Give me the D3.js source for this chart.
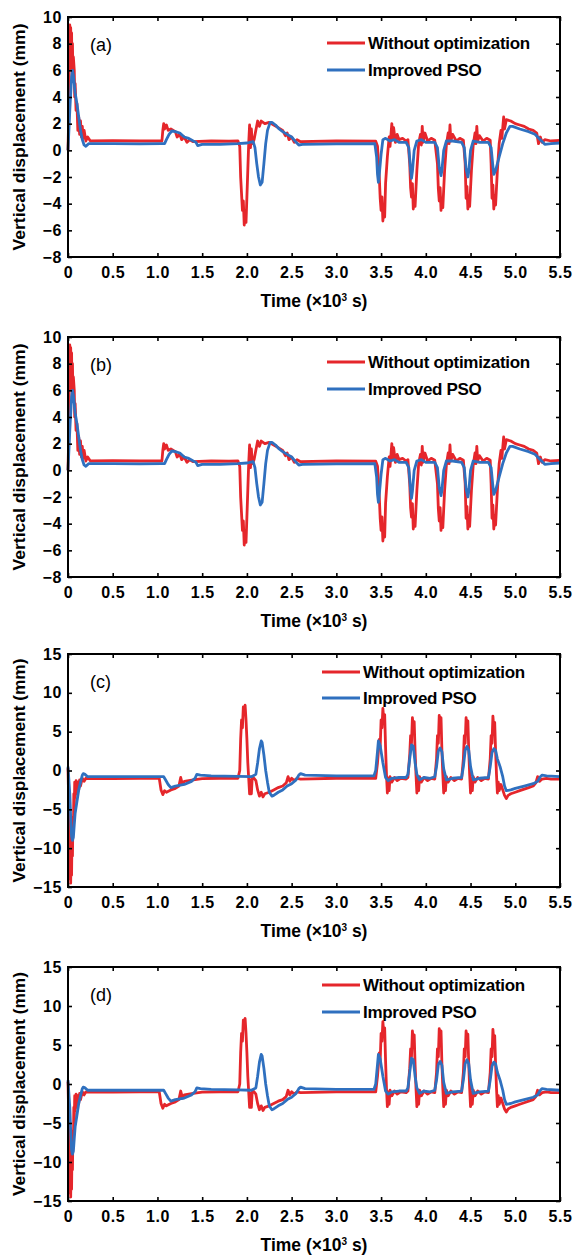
<!DOCTYPE html>
<html>
<head>
<meta charset="utf-8">
<script src="https://cdn.jsdelivr.net/npm/d3@7/dist/d3.min.js"></script>
<style>
  body { margin: 0; background: #fff; }
  text { font-family: "Liberation Sans", Arial, sans-serif; }
</style>
</head>
<body>
<svg id="fig"></svg>
<script>
// axis ticks and labels
var xTicks = [0, 0.5, 1.0, 1.5, 2.0, 2.5, 3.0, 3.5, 4.0, 4.5, 5.0, 5.5];
var xTickLabels = ["0", "0.5", "1.0", "1.5", "2.0", "2.5", "3.0", "3.5", "4.0", "4.5", "5.0", "5.5"];
var yTicksAB = [-8, -6, -4, -2, 0, 2, 4, 6, 8, 10];
var yTicksCD = [-15, -10, -5, 0, 5, 10, 15];
var seriesNames = ["Without optimization", "Improved PSO"];
var panelNames = ["(a)", "(b)", "(c)", "(d)"];

// time (x10^3 s), vertical displacement (mm) - panels (a) and (b)
var redAB = [[0,0],[0.01,3],[0.015,7.5],[0.02,9.4],[0.025,6.5],[0.03,9.2],[0.035,7],[0.04,8.8],[0.045,6],[0.05,8],[0.055,5.5],[0.06,7],[0.07,6],[0.075,4],[0.08,5],[0.09,3],[0.1,3.5],[0.11,1.5],[0.12,2.5],[0.13,1.2],[0.14,2.2],[0.15,1],[0.16,1.8],[0.17,0.9],[0.18,1.5],[0.2,0.7],[0.22,1.0],[0.25,0.7],
  [0.5,0.72],[0.8,0.7],[1.05,0.7],[1.06,1.5],[1.07,2.0],[1.08,1.6],[1.1,1.9],[1.12,1.5],[1.15,1.6],[1.2,1.4],[1.22,1.0],[1.25,1.2],[1.27,0.8],[1.3,1.0],[1.33,0.6],[1.36,0.8],[1.4,0.65],[1.6,0.7],[1.8,0.68],[1.9,0.7],
  [1.92,0.3],[1.93,-2],[1.95,-4.5],[1.96,-3.8],[1.97,-5.6],[1.98,-4.9],[1.99,-5.4],[2.0,-3.5],[2.01,-1.5],[2.02,0.5],[2.03,1.9],[2.04,0.2],[2.05,1.6],[2.06,0.5],[2.08,0.8],[2.1,1.5],[2.12,2.2],[2.14,1.8],[2.16,2.2],[2.2,2.0],[2.25,2.1],[2.3,1.9],[2.35,1.7],[2.4,1.5],[2.43,1.1],[2.45,1.3],[2.47,0.8],[2.5,1.0],[2.53,0.6],[2.56,0.8],[2.6,0.65],[3.0,0.7],
  [3.44,0.68],[3.46,0.3],[3.48,-2],[3.49,-3.6],[3.5,-4.5],[3.51,-3.5],[3.52,-5.3],[3.53,-4.2],[3.54,-5],[3.55,-2.5],[3.57,-0.5],[3.59,1.0],[3.6,0.3],[3.62,2.0],[3.63,0.8],[3.64,1.7],[3.66,0.6],[3.68,1.2],[3.7,0.8],[3.74,0.9],[3.78,0.7],
  [3.8,0.8],[3.82,-1],[3.83,-2.8],[3.84,-3.5],[3.85,-2.5],[3.86,-4.4],[3.87,-3.5],[3.88,-4.2],[3.9,-1.5],[3.92,0.5],[3.94,1.2],[3.95,0.4],[3.96,1.8],[3.97,0.6],[3.99,1.3],[4.02,0.7],[4.06,0.9],[4.1,0.75],
  [4.13,-1],[4.14,-2.9],[4.15,-3.8],[4.16,-2.8],[4.17,-4.5],[4.18,-3.6],[4.19,-4.3],[4.21,-1.5],[4.23,0.4],[4.25,1.3],[4.26,0.5],[4.27,1.9],[4.28,0.7],[4.3,1.2],[4.34,0.7],[4.38,0.9],[4.42,0.75],
  [4.44,-1],[4.45,-3.6],[4.46,-2.7],[4.47,-4.4],[4.48,-3.4],[4.49,-4.2],[4.51,-1.5],[4.53,0.4],[4.55,1.3],[4.56,0.5],[4.57,1.8],[4.58,0.7],[4.6,1.1],[4.64,0.7],[4.68,0.9],[4.72,0.75],
  [4.73,-1],[4.74,-3.6],[4.75,-2.6],[4.76,-4.4],[4.77,-3.4],[4.78,-4.1],[4.8,-1.5],[4.82,0.5],[4.84,1.5],[4.85,0.9],[4.87,2.5],[4.88,1.6],[4.9,2.3],[4.95,2.2],[5.0,2.0],[5.05,1.9],[5.1,1.8],[5.15,1.6],[5.2,1.5],[5.24,1.3],[5.26,0.5],[5.28,1.0],[5.3,0.6],[5.33,0.8],[5.4,0.7],[5.5,0.75]];

var blueAB = [[0,0],[0.02,3],[0.04,5.5],[0.05,6.0],[0.06,5.6],[0.07,5.0],[0.08,4.3],[0.1,3.5],[0.12,2.5],[0.14,1.5],[0.16,0.8],[0.18,0.4],[0.2,0.3],[0.23,0.5],[0.5,0.5],[0.8,0.48],[1.05,0.5],[1.08,0.5],
  [1.1,0.8],[1.13,1.2],[1.16,1.45],[1.2,1.4],[1.25,1.3],[1.3,1.0],[1.35,0.9],[1.4,0.7],[1.43,0.6],[1.45,0.35],[1.5,0.45],[1.7,0.45],[1.9,0.5],[2.0,0.55],[2.07,0.65],
  [2.09,0.2],[2.11,-1],[2.13,-2],[2.15,-2.6],[2.17,-2.4],[2.19,-1],[2.21,0.5],[2.23,1.5],[2.26,2.1],[2.28,2.1],[2.32,1.9],[2.36,1.6],[2.4,1.4],[2.45,1.2],[2.5,1.0],[2.55,0.6],[2.58,0.4],[2.62,0.45],[3.0,0.48],
  [3.43,0.5],[3.45,-0.5],[3.46,-1.8],[3.47,-2.4],[3.48,-1.8],[3.5,-0.3],[3.52,0.8],[3.55,0.9],[3.6,0.7],[3.65,0.8],[3.7,0.6],[3.78,0.6],
  [3.81,0.2],[3.83,-1.5],[3.84,-2.1],[3.85,-1.6],[3.87,0],[3.9,0.7],[3.95,0.8],[4.0,0.6],[4.1,0.6],
  [4.13,0.2],[4.15,-1.3],[4.17,-1.9],[4.18,-1.5],[4.2,0],[4.23,0.7],[4.3,0.7],[4.4,0.6],
  [4.43,0.2],[4.45,-1.4],[4.47,-2.0],[4.48,-1.6],[4.5,0],[4.53,0.7],[4.6,0.6],[4.7,0.6],
  [4.73,0.2],[4.75,-1.2],[4.76,-1.8],[4.78,-1.5],[4.82,-0.5],[4.86,0.5],[4.9,1.3],[4.94,1.8],[4.97,1.8],[5.05,1.6],[5.15,1.4],[5.22,1.2],[5.28,0.8],[5.33,0.45],[5.4,0.5],[5.5,0.55]];

// panels (c) and (d)
var redCD = [[0,0.3],[0.01,-5],[0.015,-11],[0.02,-14],[0.025,-9],[0.03,-14.5],[0.035,-10],[0.04,-13.5],[0.045,-8],[0.05,-11],[0.055,-6],[0.06,-8],[0.065,-3],[0.07,-5],[0.075,-1.5],[0.08,-3.5],[0.09,-1.3],[0.1,-3],[0.11,-1.5],[0.12,-2.5],[0.13,-1.2],[0.14,-2],[0.16,-1.0],[0.18,-1.4],[0.2,-1.0],
  [0.5,-1.05],[0.8,-1.0],[1.02,-1.0],[1.04,-2.5],[1.06,-3.1],[1.08,-2.6],[1.1,-2.8],[1.15,-2.5],[1.2,-2.3],[1.24,-2.0],[1.26,-0.9],[1.28,-1.8],[1.3,-1.4],[1.35,-1.3],[1.4,-1.2],[1.5,-1.05],[1.7,-1.0],[1.9,-1.0],
  [1.92,0],[1.93,4],[1.94,6.5],[1.95,5.5],[1.96,8.2],[1.97,7.2],[1.98,8.4],[1.99,6.5],[2.0,4],[2.01,1],[2.02,-1],[2.03,-3],[2.04,-1.2],[2.05,-3.0],[2.06,-0.8],[2.08,-1.0],[2.1,-1.3],[2.12,-2.5],[2.14,-3.3],[2.16,-2.8],[2.18,-3.4],[2.2,-3.0],[2.25,-2.8],[2.3,-2.5],[2.35,-2.2],[2.4,-2.0],[2.44,-1.6],[2.46,-0.8],[2.48,-1.4],[2.5,-1.0],[2.53,-1.3],[2.56,-1.0],[2.6,-1.1],[3.0,-1.0],
  [3.44,-1.0],[3.46,1],[3.48,4],[3.49,3],[3.5,6.5],[3.51,5.5],[3.52,8.0],[3.53,6.5],[3.54,7.2],[3.55,3],[3.56,-0.5],[3.57,-2.9],[3.58,-1],[3.59,-2.6],[3.6,-0.8],[3.62,-1.5],[3.65,-0.9],[3.68,-1.3],[3.72,-1.0],[3.78,-1.1],
  [3.8,-0.9],[3.82,2],[3.83,4.5],[3.84,3.5],[3.85,6.8],[3.86,5.5],[3.87,6.3],[3.88,2.5],[3.89,-0.5],[3.9,-2.9],[3.91,-1],[3.92,-2.6],[3.93,-0.8],[3.95,-1.5],[3.98,-0.9],[4.02,-1.3],[4.06,-1.0],[4.1,-1.1],
  [4.12,1.5],[4.13,4.5],[4.14,3.5],[4.15,7.1],[4.16,5.5],[4.17,6.8],[4.18,2.5],[4.19,-0.5],[4.2,-2.9],[4.21,-1],[4.22,-2.6],[4.23,-0.8],[4.25,-1.5],[4.28,-0.9],[4.32,-1.3],[4.36,-1.0],[4.4,-1.1],
  [4.42,1.5],[4.43,4.5],[4.44,3.5],[4.45,6.8],[4.46,5.5],[4.47,6.4],[4.48,2.5],[4.49,-0.5],[4.5,-2.9],[4.51,-1],[4.52,-2.6],[4.53,-0.8],[4.55,-1.5],[4.58,-0.9],[4.62,-1.3],[4.66,-1.0],[4.7,-1.1],
  [4.72,1.5],[4.73,4.5],[4.74,3.5],[4.75,7.0],[4.76,5.5],[4.77,6.2],[4.78,2.5],[4.79,-0.5],[4.8,-2.9],[4.81,-1.5],[4.82,-2.6],[4.84,-1.8],[4.86,-2.5],[4.88,-3.2],[4.9,-3.6],[4.92,-3.2],[4.95,-3.0],[5.0,-2.8],[5.05,-2.6],[5.1,-2.4],[5.15,-2.2],[5.2,-2.0],[5.23,-1.6],[5.25,-0.8],[5.27,-1.4],[5.3,-1.1],[5.35,-1.0],[5.4,-1.1],[5.5,-1.1]];

var blueCD = [[0,0.5],[0.02,-3],[0.03,-6],[0.04,-8.5],[0.05,-9],[0.06,-8.6],[0.07,-7],[0.08,-5.5],[0.1,-4],[0.12,-2.5],[0.14,-1.5],[0.16,-0.6],[0.17,-0.4],[0.19,-0.5],[0.22,-0.8],[0.5,-0.8],[0.8,-0.8],[1.07,-0.8],
  [1.09,-1.2],[1.12,-1.8],[1.15,-2.2],[1.2,-2.0],[1.3,-1.8],[1.38,-1.4],[1.42,-1.0],[1.44,-0.5],[1.48,-0.6],[1.6,-0.7],[1.9,-0.75],[2.05,-0.8],
  [2.1,-0.5],[2.12,1],[2.14,2.8],[2.16,3.8],[2.17,3.6],[2.19,2],[2.21,0],[2.23,-1.5],[2.25,-2.8],[2.28,-3.3],[2.3,-3.2],[2.35,-2.8],[2.4,-2.5],[2.45,-2.0],[2.5,-1.7],[2.55,-1.2],[2.58,-0.6],[2.6,-0.4],[2.65,-0.6],[3.0,-0.7],
  [3.42,-0.7],[3.44,0],[3.46,2.5],[3.47,3.8],[3.49,3.2],[3.52,1],[3.55,-0.9],[3.58,-1.3],[3.62,-1.0],[3.7,-0.9],[3.78,-0.9],
  [3.8,-0.5],[3.82,1.5],[3.84,3.3],[3.86,3.1],[3.88,1],[3.9,-0.5],[3.93,-1.2],[3.98,-0.9],[4.05,-1.0],[4.1,-0.8],
  [4.12,0.5],[4.14,2.5],[4.16,2.9],[4.18,2.4],[4.2,0.2],[4.23,-1.2],[4.3,-1.0],[4.4,-0.9],
  [4.42,0.5],[4.44,2.6],[4.46,3.1],[4.48,2.6],[4.5,0.5],[4.53,-1.2],[4.6,-1.0],[4.7,-0.9],
  [4.72,0.5],[4.74,2.3],[4.76,2.8],[4.78,2.6],[4.8,1.5],[4.83,0.5],[4.86,-0.8],[4.88,-2.0],[4.9,-2.6],[4.95,-2.5],[5.0,-2.3],[5.1,-2.0],[5.2,-1.7],[5.25,-1.4],[5.28,-0.8],[5.3,-0.6],[5.35,-0.7],[5.5,-0.8]];

// 画面サイズ
var w = 577;
var h = 1258;
var left = 68, right = 560;
var red = "#e5262b", blue = "#2f70bf";

var svg = d3.select("#fig").attr("width", w).attr("height", h);
svg.append("rect").attr("width", w).attr("height", h).attr("fill", "#fff");

var panels = [
  { name: panelNames[0], r: redAB, b: blueAB, yTicks: yTicksAB, top: 17,  bottom: 257,  leg: [327, 26, 53], ylen: 227 },
  { name: panelNames[1], r: redAB, b: blueAB, yTicks: yTicksAB, top: 337, bottom: 577,  leg: [327, 25, 52], ylen: 227 },
  { name: panelNames[2], r: redCD, b: blueCD, yTicks: yTicksCD, top: 654, bottom: 887,  leg: [322, 18, 44], ylen: 224 },
  { name: panelNames[3], r: redCD, b: blueCD, yTicks: yTicksCD, top: 967, bottom: 1201, leg: [322, 18, 45], ylen: 224 }
];

var x = d3.scaleLinear().domain([0, 5.5]).range([left, right]);

panels.forEach(function (p) {
  var y = d3.scaleLinear().domain(d3.extent(p.yTicks)).range([p.bottom, p.top]);
  var g = svg.append("g");

  var line = d3.line().x(d => x(d[0])).y(d => y(d[1]));
  g.append("path").datum(p.r).attr("d", line)
    .attr("fill", "none").attr("stroke", red).attr("stroke-width", 2.8)
    .attr("stroke-linejoin", "round");
  g.append("path").datum(p.b).attr("d", line)
    .attr("fill", "none").attr("stroke", blue).attr("stroke-width", 2.8)
    .attr("stroke-linejoin", "round");

  // 軸（目盛りは内向き）
  g.append("g").attr("transform", "translate(0," + p.bottom + ")")
    .call(d3.axisBottom(x).tickValues(xTicks).tickSize(-4).tickSizeOuter(0).tickPadding(10)
      .tickFormat((d, i) => xTickLabels[i]));
  g.append("g").attr("transform", "translate(0," + p.top + ")")
    .call(d3.axisTop(x).tickValues(xTicks).tickSize(-4).tickSizeOuter(0).tickFormat(""));
  g.append("g").attr("transform", "translate(" + left + ",0)")
    .call(d3.axisLeft(y).tickValues(p.yTicks).tickSize(-4).tickSizeOuter(0).tickPadding(6));
  g.append("g").attr("transform", "translate(" + right + ",0)")
    .call(d3.axisRight(y).tickValues(p.yTicks).tickSize(-4).tickSizeOuter(0).tickFormat(""));
  g.selectAll(".domain").remove();
  g.selectAll(".tick line").attr("stroke", "#000").attr("stroke-width", 1.6);
  g.selectAll(".tick text")
    .attr("fill", "#000")
    .style("font-family", '"Liberation Sans", Arial, sans-serif')
    .style("font-size", "16px").style("font-weight", "bold")
    .style("letter-spacing", "0.6px");

  g.append("rect").attr("x", left).attr("y", p.top)
    .attr("width", right - left).attr("height", p.bottom - p.top)
    .attr("fill", "none").attr("stroke", "#000").attr("stroke-width", 2);

  // パネル名
  g.append("text").attr("x", 90).attr("y", p.top + 34)
    .style("font-size", "18px").text(p.name);

  // 凡例
  [red, blue].forEach(function (c, i) {
    var ly = p.top + p.leg[i + 1];
    g.append("line").attr("x1", p.leg[0]).attr("x2", p.leg[0] + 38)
      .attr("y1", ly).attr("y2", ly).attr("stroke", c).attr("stroke-width", 3);
    g.append("text").attr("x", p.leg[0] + 41).attr("y", ly + 6)
      .style("font-size", "17px").style("font-weight", "bold")
      .style("letter-spacing", "-0.3px")
      .text(seriesNames[i]);
  });

  // 軸ラベル
  var t = g.append("text").attr("text-anchor", "middle")
    .attr("x", (left + right) / 2).attr("y", p.bottom + 50)
    .style("font-size", "17.5px").style("font-weight", "bold");
  t.append("tspan").text("Time (\u00d710");
  t.append("tspan").attr("dy", -6).style("font-size", "10px").text("3");
  t.append("tspan").attr("dy", 6).text(" s)");

  g.append("text").attr("text-anchor", "middle")
    .attr("transform", "translate(25," + (p.top + p.bottom) / 2 + ") rotate(-90)")
    .attr("textLength", p.ylen).attr("lengthAdjust", "spacingAndGlyphs")
    .style("font-size", "17px").style("font-weight", "bold")
    .text("Vertical displacement (mm)");
});
</script>
</body>
</html>
